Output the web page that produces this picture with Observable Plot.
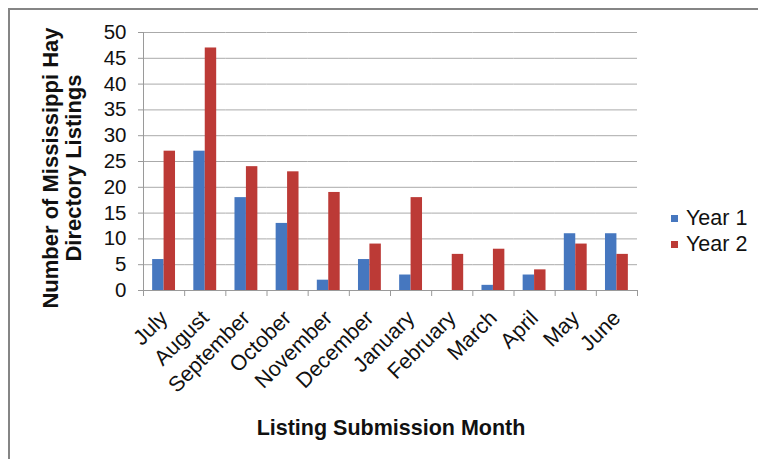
<!DOCTYPE html>
<html>
<head>
<meta charset="utf-8">
<script src="https://cdn.jsdelivr.net/npm/d3@7"></script>
<script src="https://cdn.jsdelivr.net/npm/@observablehq/plot@0.6"></script>
<style>
  html, body { margin: 0; padding: 0; background: #fff; }
  body { width: 758px; height: 459px; position: relative; overflow: hidden;
         font-family: "Liberation Sans", Arial, sans-serif; color: #111; }
  #frame { position: absolute; left: 8px; top: 8px; width: 760px; height: 460px;
           border-top: 2px solid #858585; border-left: 2px solid #858585; box-sizing: border-box; }
  #chart { position: absolute; left: 0; top: 0; }
  .ytitle { position: absolute; left: 62px; top: 168px; transform: translate(-50%, -50%) rotate(-90deg);
            white-space: nowrap; text-align: center; font-weight: bold; font-size: 22px; line-height: 23px; }
  .xtitle { position: absolute; left: 391px; top: 416px; transform: translateX(-50%);
            white-space: nowrap; font-weight: bold; font-size: 21.5px; }
  .legend { position: absolute; left: 671px; top: 205px; font-size: 21.5px; }
  .legend div { display: flex; align-items: center; height: 26px; }
  .legend span.sw { display: inline-block; width: 7px; height: 7px; margin-right: 8px; }
</style>
</head>
<body>
<div id="frame"></div>
<div id="chart"></div>
<div class="ytitle">Number of Mississippi Hay<br>Directory Listings</div>
<div class="xtitle">Listing Submission Month</div>
<div class="legend" id="legend"></div>
<script>
const months = ["July","August","September","October","November","December","January","February","March","April","May","June"];
const seriesNames = ["Year 1","Year 2"];
const year1 = [6, 27, 18, 13, 2, 6, 3, 0, 1, 3, 11, 11];
const year2 = [27, 47, 24, 23, 19, 9, 18, 7, 8, 4, 9, 7];
const yTicks = [0, 5, 10, 15, 20, 25, 30, 35, 40, 45, 50];
const colors = ["#4677BF", "#BC3A36"];

const data = [];
months.forEach((m, i) => {
  data.push({month: m, series: seriesNames[0], value: year1[i]});
  data.push({month: m, series: seriesNames[1], value: year2[i]});
});

const axisColor = "#9a9a9a";
const plot = Plot.plot({
  width: 758,
  height: 459,
  marginLeft: 143,
  marginRight: 121,
  marginTop: 32,
  marginBottom: 169,
  style: {fontFamily: "'Liberation Sans', Arial, sans-serif", fontSize: "20px", color: "#111", background: "transparent"},
  fx: {domain: months, padding: 0, round: false, label: null},
  x: {domain: seriesNames, paddingInner: 0, paddingOuter: 0.8, round: false, axis: null},
  y: {domain: [0, 50], label: null},
  color: {domain: seriesNames, range: colors},
  marks: [
    Plot.gridY(yTicks, {stroke: "#aaaaaa", strokeOpacity: 1}),
    Plot.barY(data, {fx: "month", x: "series", y: "value", fill: "series", inset: 0}),
    Plot.ruleY([0], {stroke: axisColor}),
    Plot.frame({anchor: "left", stroke: axisColor, insetBottom: -5, facetAnchor: "left"}),
    Plot.frame({anchor: "right", stroke: axisColor, insetTop: 258, insetBottom: -5}),
    Plot.axisY(yTicks, {tickSize: 5, tickPadding: 12, stroke: axisColor, fontSize: 20.5, label: null}),
    Plot.axisFx({anchor: "bottom", tickRotate: -45, tickSize: 0, tickPadding: 24, fontSize: 21.5, label: null})
  ]
});
document.getElementById("chart").appendChild(plot);

const legend = document.getElementById("legend");
seriesNames.forEach((s, i) => {
  const row = document.createElement("div");
  const sw = document.createElement("span");
  sw.className = "sw";
  sw.style.background = colors[i];
  row.appendChild(sw);
  row.appendChild(document.createTextNode(s));
  legend.appendChild(row);
});
</script>
</body>
</html>
